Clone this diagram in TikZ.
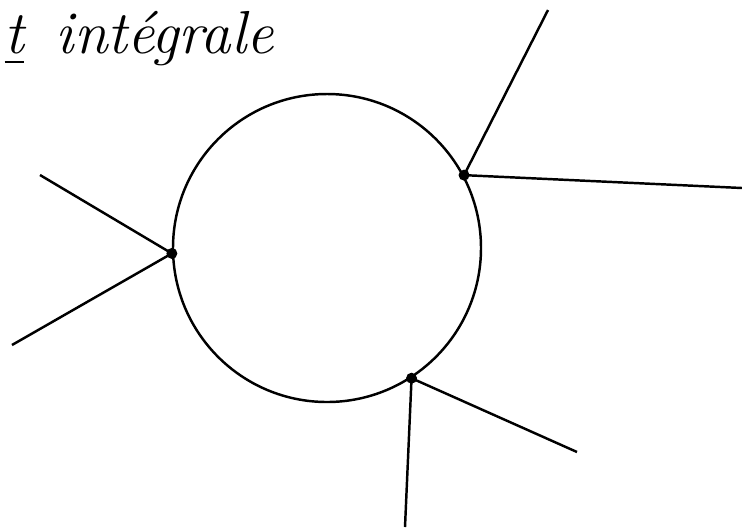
\documentclass[tikz,border=0pt]{standalone}
\usepackage{amsfonts, amssymb}
\usepackage{amsmath}
\usepackage{tikz}

\tikzset{
  leg/.style={black,line width=0.7pt},
  vertexdot/.style={fill=black,radius=0.055}
}

\begin{document}
\begin{tikzpicture}
\useasboundingbox (0,0) rectangle (7.42,5.27);
% title at the top of the page
\node[anchor=base west,inner sep=0pt] (title) at (0.04,4.74) {\LARGE\itshape \underline{t}\, int\'egrale};
% the loop
\node[draw,leg,circle,minimum size=3.08cm,inner sep=0pt] (hub) at (3.27,2.79) {};
\coordinate (a) at (hub.28);
\coordinate (b) at (hub.182);
\coordinate (c) at (hub.-57);
% external legs
\coordinate (a1) at (5.48,5.17);
\coordinate (a2) at (7.42,3.39);
\coordinate (b1) at (0.40,3.52);
\coordinate (b2) at (0.12,1.82);
\coordinate (c1) at (4.05,0.00);
\coordinate (c2) at (5.77,0.75);
\draw[leg] (a) -- (a1);
\draw[leg] (a) -- (a2);
\draw[leg] (b) -- (b1);
\draw[leg] (b) -- (b2);
\draw[leg] (c) -- (c1);
\draw[leg] (c) -- (c2);
\foreach \v in {a,b,c}
  \fill[vertexdot] (\v) circle;
\end{tikzpicture}
\end{document}
